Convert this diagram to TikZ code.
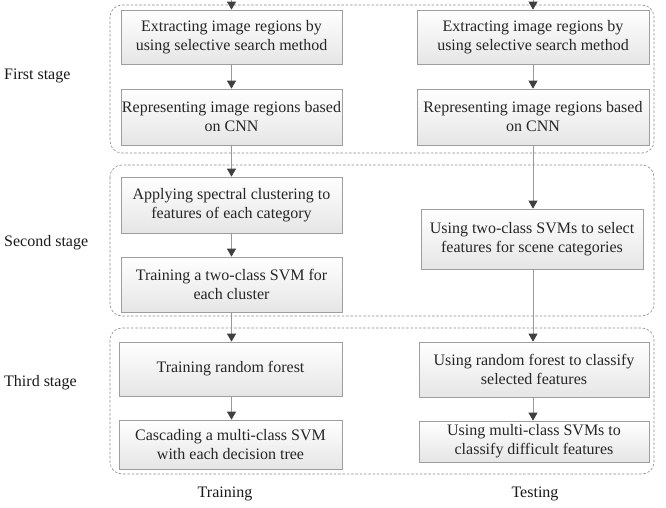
\documentclass[tikz,border=0pt]{standalone}
\usepackage{fontspec}
\setmainfont{Liberation Serif}
\usetikzlibrary{arrows.meta,shadows}
\begin{document}
\begin{tikzpicture}[x=1pt,y=-1pt,
  box/.style={draw=black!38, line width=0.7pt, top color=white, bottom color=black!10,
    align=center, inner sep=0pt, font=\fontsize{16}{19}\selectfont, text=black!85,
    drop shadow={opacity=0.18, shadow xshift=1.2pt, shadow yshift=-1.2pt}},
  stagebox/.style={draw=black!45, line width=0.6pt, dash pattern=on 2.5pt off 1.8pt, rounded corners=12pt},
  conn/.style={draw=black!40, line width=0.8pt, -{Triangle[length=8pt,width=9pt,color=black!75]}},
  lbl/.style={font=\fontsize{16}{19}\selectfont, text=black!90, inner sep=0pt}]
\useasboundingbox (0,0) rectangle (666,508);
% stage frames
\draw[stagebox] (110,5) rectangle (654,153);
\draw[stagebox] (110,165) rectangle (654,316);
\draw[stagebox] (110,328) rectangle (654,474);
% stage labels
\node[lbl, anchor=west] (s1) at (4,76) {First stage};
\node[lbl, anchor=west] (s2) at (4,243) {Second stage};
\node[lbl, anchor=west] (s3) at (4,383) {Third stage};
% left column
\node[box, minimum width=221, minimum height=54] (L1) at (231.5,37) {Extracting image regions by\\using selective search method};
\node[box, minimum width=221, minimum height=56] (L2) at (231.5,117) {Representing image regions based\\on CNN};
\node[box, minimum width=221, minimum height=56] (L3) at (231.5,205) {Applying spectral clustering to\\features of each category};
\node[box, minimum width=221, minimum height=55] (L4) at (231.5,284.5) {Training a two-class SVM for\\each cluster};
\node[box, minimum width=223, minimum height=54] (L5) at (230.5,369) {Training random forest};
\node[box, minimum width=223, minimum height=49] (L6) at (230.5,444.5) {Cascading a multi-class SVM\\with each decision tree};
% right column
\node[box, minimum width=232, minimum height=54] (R1) at (533,37) {Extracting image regions by\\using selective search method};
\node[box, minimum width=232, minimum height=56] (R2) at (533,117) {Representing image regions based\\on CNN};
\node[box, minimum width=222, minimum height=60] (R3) at (532,239) {Using two-class SVMs to select\\features for scene categories};
\node[box, minimum width=230, minimum height=55] (R5) at (534,369.5) {Using random forest to classify\\selected features};
\node[box, minimum width=230, minimum height=41] (R6) at (534,441.5) {Using multi-class SVMs to\\classify difficult features};
% bottom labels
\node[lbl] (tr) at (225,494) {Training};
\node[lbl] (te) at (535,494) {Testing};
% connectors
\coordinate (tl) at (231.5,0);
\coordinate (trr) at (533,0);
\draw[conn] (tl) -- (L1.north);
\draw[conn] (L1) -- (L2);
\draw[conn] (L2) -- (L3);
\draw[conn] (L3) -- (L4);
\draw[conn] (L4.south) -- (L5.north -| L4.south);
\draw[conn] (L5.south -| L4.south) -- (L6.north -| L4.south);
\draw[conn] (trr) -- (R1.north);
\draw[conn] (R1) -- (R2);
\draw[conn] (R2.south) -- (R3.north -| R2.south);
\draw[conn] (R3.south -| R2.south) -- (R5.north -| R2.south);
\draw[conn] (R5.south -| R2.south) -- (R6.north -| R2.south);
\end{tikzpicture}
\end{document}
